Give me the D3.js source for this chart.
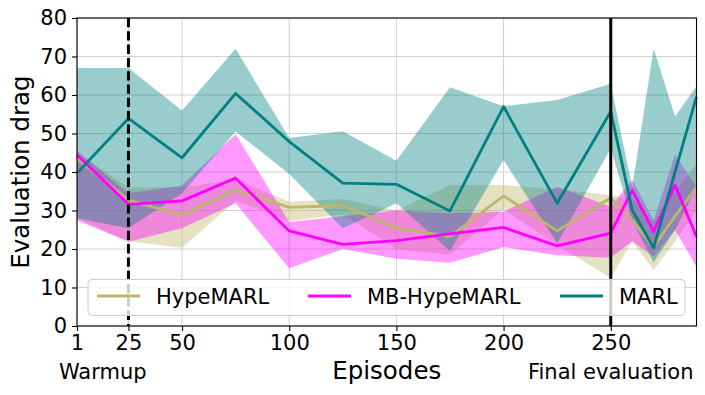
<!DOCTYPE html>
<html>
<head>
<meta charset="utf-8">
<script src="https://cdn.jsdelivr.net/npm/d3@7"></script>
<style>
  body { margin: 0; background: white; }
  svg text { font-family: "DejaVu Sans", sans-serif; fill: black; }
</style>
</head>
<body>
<div id="container"></div>
<script>
let w = 705;
let h = 395;

// data
let episodes = [1, 25, 50, 75, 100, 125, 150, 175, 200, 225, 250, 260, 270, 280, 290];
let hypeMean = [43.5, 32.7, 28.8, 35.3, 30.8, 31.3, 25.5, 23.2, 33.8, 24.7, 33.3, 27.5, 20.5, 28.5, 36];
let hypeLow  = [28, 22, 20.3, 32.5, 27.2, 29, 20, 18.5, 30.3, 21, 12.5, 22, 14.5, 22, 30];
let hypeHigh = [45, 36, 36, 38, 32.3, 33, 30, 36.6, 36.6, 35.5, 34, 33, 27, 35, 42];
let mbMean = [44.4, 31.6, 32.5, 38.4, 24.7, 21.2, 22.2, 23.9, 25.6, 20.8, 24.1, 35.3, 24.5, 36.6, 23.2];
let mbLow  = [27.5, 21.9, 25.4, 31.9, 15, 20, 17.5, 16.4, 20.5, 18.4, 17.7, 22, 18, 25, 15.4];
let mbHigh = [45.5, 34.5, 36.5, 49.8, 27, 28.5, 30, 29.3, 29.7, 36.2, 31, 38, 27.5, 44.5, 36];
let marlMean = [39.7, 53.9, 43.7, 60.4, 47.9, 37.1, 36.8, 29.9, 57, 31.9, 55.7, 30.1, 20.3, 40, 59.6];
let marlLow  = [28, 25.4, 34.5, 50.5, 39.5, 25.4, 31.9, 19.5, 43.1, 21.5, 46.1, 27.5, 16.5, 25, 36];
let marlHigh = [67, 67, 56, 72, 48.8, 50.6, 42.9, 62, 57.1, 58.7, 62.9, 36, 72, 54.4, 62.3];

let xTicks = [1, 25, 50, 100, 150, 200, 250];
let yTicks = [0, 10, 20, 30, 40, 50, 60, 70, 80];
let seriesNames = ["HypeMARL", "MB-HypeMARL", "MARL"];
let seriesColors = ["#bdb76b", "#ff00ff", "#008080"];

let series = [
  {mean: hypeMean, low: hypeLow, high: hypeHigh},
  {mean: mbMean, low: mbLow, high: mbHigh},
  {mean: marlMean, low: marlLow, high: marlHigh}
];

let viz = d3.select("#container").append("svg")
    .attr("width", w)
    .attr("height", h);

let x = d3.scaleLinear().domain([1, 290]).range([77, 696.5]);
let y = d3.scaleLinear().domain([0, 80]).range([326, 18]);

// grid
viz.append("g").selectAll("line").data(yTicks).enter().append("line")
  .attr("x1", 77).attr("x2", 696.5)
  .attr("y1", d => y(d)).attr("y2", d => y(d))
  .attr("stroke", "#d0d0d0").attr("stroke-width", 1);
viz.append("g").selectAll("line").data(xTicks).enter().append("line")
  .attr("x1", d => x(d)).attr("x2", d => x(d))
  .attr("y1", 18).attr("y2", 326)
  .attr("stroke", "#d0d0d0").attr("stroke-width", 1);

// bands
let area = function(s){
  return d3.area()
    .x((d, i) => x(episodes[i]))
    .y0((d, i) => y(s.low[i]))
    .y1((d, i) => y(s.high[i]))(s.mean);
};
series.forEach(function(s, k){
  viz.append("path")
    .attr("d", area(s))
    .attr("fill", seriesColors[k])
    .attr("fill-opacity", 0.4);
});

// mean lines
let lineMaker = d3.line().x((d, i) => x(episodes[i])).y(d => y(d));
series.forEach(function(s, k){
  viz.append("path")
    .attr("d", lineMaker(s.mean))
    .attr("fill", "none")
    .attr("stroke", seriesColors[k])
    .attr("stroke-width", 2.8)
    .attr("stroke-linejoin", "round");
});

// warmup / final evaluation markers
viz.append("line")
  .attr("x1", x(25)).attr("x2", x(25)).attr("y1", 18).attr("y2", 326)
  .attr("stroke", "black").attr("stroke-width", 3)
  .attr("stroke-dasharray", "9.3,4");
viz.append("line")
  .attr("x1", x(250)).attr("x2", x(250)).attr("y1", 18).attr("y2", 326)
  .attr("stroke", "black").attr("stroke-width", 3);

// frame
viz.append("rect")
  .attr("x", 77).attr("y", 18).attr("width", 696.5 - 77).attr("height", 326 - 18)
  .attr("fill", "none").attr("stroke", "black").attr("stroke-width", 1.1);

// axes
let xAxis = d3.axisBottom(x).tickValues(xTicks).tickSize(5).tickPadding(4);
let yAxis = d3.axisLeft(y).tickValues(yTicks).tickSize(5).tickPadding(5);
let gx = viz.append("g").attr("transform", "translate(0,326)").call(xAxis);
let gy = viz.append("g").attr("transform", "translate(77,0)").call(yAxis);
[gx, gy].forEach(function(g){
  g.select(".domain").remove();
  g.selectAll("line").attr("stroke", "black").attr("stroke-width", 1.1);
  g.selectAll("text").style("font-size", "21px").attr("font-family", "DejaVu Sans").attr("fill", "black");
});

// labels
viz.append("text")
  .attr("x", (77 + 696.5) / 2).attr("y", 379)
  .attr("text-anchor", "middle").style("font-size", "24.5px")
  .text("Episodes");
viz.append("text")
  .attr("transform", "translate(29," + ((18 + 326) / 2) + ") rotate(-90)")
  .attr("text-anchor", "middle").style("font-size", "24.5px")
  .text("Evaluation drag");
viz.append("text")
  .attr("x", x(13)).attr("y", 379)
  .attr("text-anchor", "middle").style("font-size", "21px")
  .text("Warmup");
viz.append("text")
  .attr("x", x(250)).attr("y", 379)
  .attr("text-anchor", "middle").style("font-size", "21px")
  .text("Final evaluation");

// legend
let legend = viz.append("g");
legend.append("rect")
  .attr("x", 88).attr("y", 279.5).attr("width", 597).attr("height", 36)
  .attr("rx", 4).attr("ry", 4)
  .attr("fill", "white").attr("fill-opacity", 0.8)
  .attr("stroke", "#cccccc").attr("stroke-width", 1);
let legendX = [97, 308, 560];
seriesNames.forEach(function(name, k){
  legend.append("line")
    .attr("x1", legendX[k]).attr("x2", legendX[k] + 43)
    .attr("y1", 296).attr("y2", 296)
    .attr("stroke", seriesColors[k]).attr("stroke-width", 2.8);
  legend.append("text")
    .attr("x", legendX[k] + 59).attr("y", 303.5)
    .style("font-size", "21px")
    .text(name);
});
</script>
</body>
</html>
